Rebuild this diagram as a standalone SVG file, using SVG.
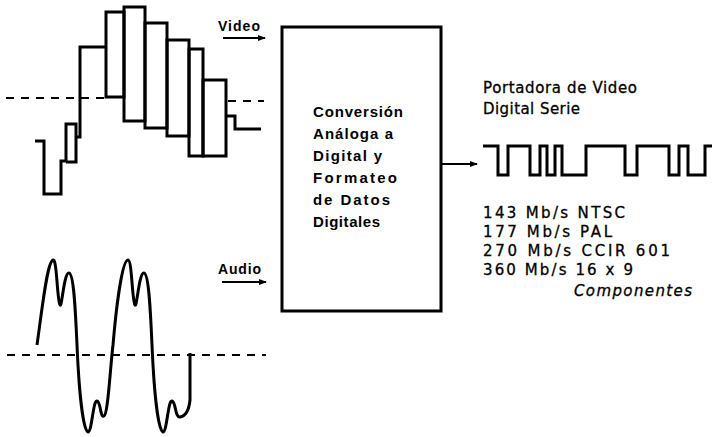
<svg xmlns="http://www.w3.org/2000/svg" width="714" height="437" viewBox="0 0 714 437">
<defs>
<style>
.w{fill:none;stroke:#000;stroke-width:3;stroke-linejoin:miter}
.d{fill:none;stroke:#000;stroke-width:2;stroke-dasharray:8,7}
.c{fill:none;stroke:#000;stroke-width:2}
.t{font-family:"Liberation Sans",Arial,sans-serif;fill:#000}
.b{font-weight:bold;font-size:15px}
.l{font-weight:bold;font-size:14px}
.r{font-family:"DejaVu Sans","Liberation Sans",sans-serif;font-size:15px;stroke:#000;stroke-width:0.3}
</style>
<marker id="ah" markerWidth="8" markerHeight="6" refX="7" refY="3" orient="auto" markerUnits="userSpaceOnUse">
<path d="M0,0 L8,3 L0,6 Z" fill="#000"/>
</marker>
</defs>
<rect width="714" height="437" fill="#fff"/>

<g id="video-signal">
<path class="d" d="M6,98 H104"/>
<path class="d" d="M228,101 H264"/>
<path class="w" d="M35,141 H44 V194 H61 V161 H66 V124 H76 V162 H66 M76,137 H80 V47 H106"/>
<rect class="w" x="106" y="12" width="18" height="85"/>
<rect class="w" x="124" y="7" width="21" height="114"/>
<rect class="w" x="145" y="23" width="22" height="105"/>
<rect class="w" x="167" y="40" width="22" height="96"/>
<rect class="w" x="189" y="49" width="14" height="107"/>
<rect class="w" x="203" y="80" width="23" height="76"/>
<path class="w" d="M226,116 H235 V129 H261"/>
</g>

<g id="audio-signal">
<path class="d" d="M7,355 H266"/>
<path class="w" d="M37,345 C42,310 47,262 53,260 C57,258 57,300 60,305 C62,308 64,272 69,273 C75,274 76,330 78,365 C80,400 84,432 88,432 C92,432 93,400 97,401 C101,402 100,418 104,416 C108,414 110,370 113,345 C116,310 122,260 128,260 C132,260 132,300 135,305 C137,308 139,272 144,273 C150,274 151,330 153,365 C155,400 159,432 163,432 C167,432 168,400 172,401 C176,402 175,418 180,417 C186,416 189,410 190,400 V353"/>
</g>

<g id="converter">
<rect class="w" x="282" y="27" width="159" height="284"/>
<text class="t b" x="313" y="117" textLength="90">Conversión</text>
<text class="t b" x="313" y="139" textLength="80">Análoga a</text>
<text class="t b" x="313" y="161" textLength="69">Digital y</text>
<text class="t b" x="313" y="183" textLength="84">Formateo</text>
<text class="t b" x="313" y="205" textLength="77">de Datos</text>
<text class="t b" x="313" y="227" textLength="67">Digitales</text>
</g>

<g id="serial-output">
<text class="t r" x="483" y="93" textLength="154">Portadora de Video</text>
<text class="t r" x="483" y="114" textLength="97">Digital Serie</text>
<path class="w" d="M483,146 H498 V175 H508 V146 H530 V175 H540 V146 H547 V175 H555 V146 H562 V175 H586 V146 H625 V175 H637 V146 H669 V175 H679 V146 H688 V175 H705 V146 H712"/>
<text class="t r" x="483" y="218" textLength="142">143 Mb/s NTSC</text>
<text class="t r" x="483" y="237" textLength="129">177 Mb/s PAL</text>
<text class="t r" x="483" y="256" textLength="187">270 Mb/s CCIR 601</text>
<text class="t r" x="483" y="275" textLength="150">360 Mb/s 16 x 9</text>
<text class="t r" x="574" y="296" font-style="italic" textLength="118">Componentes</text>
</g>

<g id="connectors">
<text class="t l" x="218" y="31" textLength="42">Video</text>
<path class="c" d="M223,38 H265" marker-end="url(#ah)"/>
<text class="t l" x="218" y="274" textLength="43">Audio</text>
<path class="c" d="M222,282 H266" marker-end="url(#ah)"/>
<path class="c" d="M441,164 H477" marker-end="url(#ah)"/>
</g>
</svg>
